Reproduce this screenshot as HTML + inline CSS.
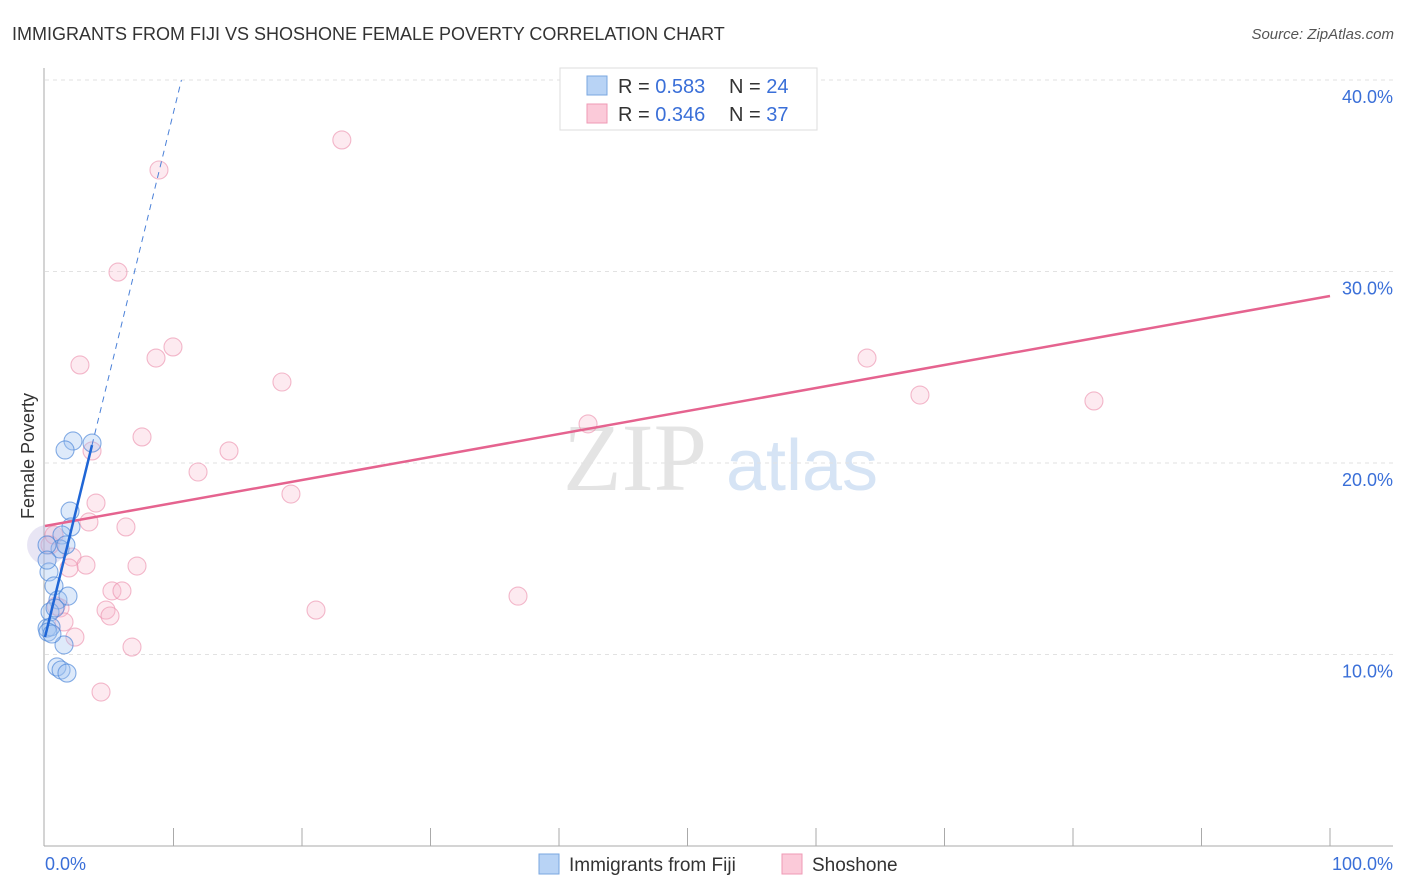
<!DOCTYPE html>
<html><head><meta charset="utf-8"><style>
body{margin:0;background:#fff;font-family:"Liberation Sans",sans-serif;}
svg{display:block}
</style></head><body>
<svg id="chart" width="1406" height="892" xmlns="http://www.w3.org/2000/svg" font-family="Liberation Sans, sans-serif">
<text x="12" y="40" font-size="18" fill="#333">IMMIGRANTS FROM FIJI VS SHOSHONE FEMALE POVERTY CORRELATION CHART</text>
<text x="1394" y="39" font-size="15" fill="#555" text-anchor="end" font-style="italic">Source: ZipAtlas.com</text>
<g>
<text x="635" y="490" font-size="96" fill="#e4e4e4" text-anchor="middle" font-family="Liberation Serif, serif">ZIP</text>
<text x="802" y="490" font-size="72" fill="#d6e4f5" text-anchor="middle">atlas</text>
</g>
<g id="grid"></g>
<g id="axes"></g>
<g id="marks"></g>
<text transform="translate(34,456) rotate(-90)" font-size="18" fill="#333" text-anchor="middle">Female Poverty</text>
<g>
<rect x="560" y="68" width="257" height="62" fill="#fff" stroke="#ddd"/>
<rect x="587" y="76" width="20" height="19" fill="#b8d3f5" stroke="#7aa7e0"/>
<rect x="587" y="104" width="20" height="19" fill="#fbcad9" stroke="#ef9ab5"/>
<text x="618" y="93" font-size="20" fill="#333">R = <tspan fill="#3a6fd8">0.583</tspan></text>
<text x="729" y="93" font-size="20" fill="#333">N = <tspan fill="#3a6fd8">24</tspan></text>
<text x="618" y="121" font-size="20" fill="#333">R = <tspan fill="#3a6fd8">0.346</tspan></text>
<text x="729" y="121" font-size="20" fill="#333">N = <tspan fill="#3a6fd8">37</tspan></text>
</g>
<g>
<rect x="539" y="854" width="20" height="20" fill="#b8d3f5" stroke="#7aa7e0"/>
<text x="569" y="871" font-size="19" fill="#333">Immigrants from Fiji</text>
<rect x="782" y="854" width="20" height="20" fill="#fbcad9" stroke="#ef9ab5"/>
<text x="812" y="871" font-size="19" fill="#333">Shoshone</text>
</g>
</svg>
<script>
const yTicks=[10,20,30,40];
const yTickLabels=["10.0%","20.0%","30.0%","40.0%"];
const xTickLabels=["0.0%","100.0%"];
const fijiX=[2.18,1.56,3.66,1.95,2.02,1.32,1.17,1.63,0.31,0.70,1.01,1.79,0.39,0.16,0.47,1.48,0.93,1.25,1.71,0.16,0.23,0.54,0.78,0.16];
const fijiY=[21.15,20.68,21.04,17.49,16.66,16.24,15.51,15.72,14.31,13.58,12.85,13.05,12.22,11.38,11.44,10.50,9.35,9.19,9.03,15.72,11.17,11.07,12.43,14.93];
const shoX=[23.1,8.87,5.68,9.96,8.64,2.72,18.44,63.97,68.09,81.63,42.26,7.55,3.66,14.32,11.91,19.14,3.97,3.42,6.30,2.10,3.19,1.87,7.16,5.21,5.99,36.81,4.75,5.06,21.09,0.86,1.17,1.48,2.33,6.77,4.36,0.39,0.70];
const shoY=[36.87,35.30,29.97,26.06,25.48,25.12,24.23,25.48,23.55,23.24,22.04,21.36,20.63,20.63,19.53,18.38,17.91,16.92,16.66,15.09,14.67,14.52,14.62,13.32,13.32,13.05,12.32,12.01,12.32,12.53,12.43,11.70,10.91,10.39,8.04,15.72,16.24];
const fijiTrend=[10.91,2.74];   // intercept, slope
const shoTrend=[16.71,0.1201];
const NS="http://www.w3.org/2000/svg";
const X=v=>45+v*12.85, Y=v=>846-v*19.15;
function mk(t,a,p){const e=document.createElementNS(NS,t);for(const k in a)e.setAttribute(k,a[k]);p.appendChild(e);return e;}
const grid=document.getElementById('grid'),axes=document.getElementById('axes'),marks=document.getElementById('marks');
yTicks.forEach((t,i)=>{
 const l=mk('line',{x1:45,x2:1393,y1:Y(t),y2:Y(t),stroke:'#e2e2e2','stroke-dasharray':'4,4'},grid);
 
 
 const tx=mk('text',{x:1393,y:Y(t)+23,'font-size':18,fill:'#3a6fd8','text-anchor':'end'},axes);
 tx.textContent=yTickLabels[i];
 
 
});
let a=mk('line',{x1:44,x2:44,y1:68,y2:846,stroke:'#aaa'},axes);


a=mk('line',{x1:44,x2:1393,y1:846,y2:846,stroke:'#aaa'},axes);


for(let i=1;i<=10;i++){const t=mk('line',{x1:X(i*10),x2:X(i*10),y1:828,y2:846,stroke:'#aaa'},axes);
 
 }
[[0,'start',45],[100,'end',1393]].forEach((d,i)=>{const t=mk('text',{x:d[2],y:870,'font-size':18,fill:'#3a6fd8','text-anchor':d[1]},axes);t.textContent=xTickLabels[i];
 
 });
let big=mk('circle',{cx:X(fijiX[19]),cy:Y(fijiY[19]),r:20,fill:'rgba(180,170,220,0.3)'},marks);


shoX.forEach((x,i)=>{const c=mk('circle',{cx:X(x),cy:Y(shoY[i]),r:9,fill:'rgba(248,185,205,0.3)',stroke:'rgba(235,140,170,0.6)','stroke-width':1.1},marks);
 
 });
fijiX.forEach((x,i)=>{const c=mk('circle',{cx:X(x),cy:Y(fijiY[i]),r:9,fill:'rgba(160,195,240,0.35)',stroke:'rgba(70,130,215,0.65)','stroke-width':1.1},marks);
 
 });
let l=mk('line',{x1:X(0),y1:Y(shoTrend[0]),x2:X(100),y2:Y(shoTrend[0]+100*shoTrend[1]),stroke:'#e5638f','stroke-width':2.5},marks);


const xe=(40-fijiTrend[0])/fijiTrend[1];
l=mk('line',{x1:X(3.66),y1:Y(fijiTrend[0]+3.66*fijiTrend[1]),x2:X(xe),y2:Y(40),stroke:'#4a80d8','stroke-width':1,'stroke-dasharray':'6,5'},marks);


l=mk('line',{x1:X(0),y1:Y(fijiTrend[0]),x2:X(3.66),y2:Y(fijiTrend[0]+3.66*fijiTrend[1]),stroke:'#1f66d6','stroke-width':2.5},marks);


</script>
</body></html>
